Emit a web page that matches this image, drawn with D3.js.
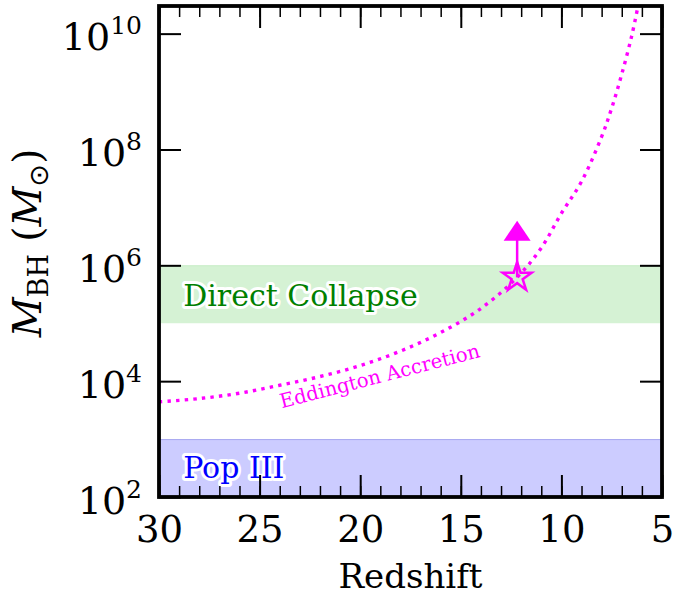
<!DOCTYPE html>
<html>
<head>
<meta charset="utf-8">
<script src="https://cdn.jsdelivr.net/npm/d3@7"></script>
<style>
  body { margin: 0; background: #fff; }
  text { font-family: "DejaVu Serif", serif; }
</style>
</head>
<body>
<script>
// Eddington accretion track (redshift, M_BH in solar masses)
var eddZ    = [30, 28, 26, 24, 22, 20, 18, 16, 14, 12.2, 11, 10, 9, 8, 7.5, 7, 6.5, 6.2];
var eddMass = [4.4e3, 5.0e3, 6.2e3, 8.5e3, 1.2e4, 1.86e4, 3.3e4, 6.9e4, 1.8e5, 6.2e5,
               2.0e6, 7.9e6, 2.8e7, 1.66e8, 5.2e8, 2.0e9, 9.3e9, 2.9e10];

// seed mass ranges
var bandNames = ["Direct Collapse", "Pop III"];
var bandLow   = [1e5, 1e2];
var bandHigh  = [1e6, 1e3];

// the object: lower limit at z ~ 12.2, arrow up to
var objZ = [12.2], objMass = [6.2e5], objLimitTo = [5.9e6];

var xTicks = [30, 25, 20, 15, 10, 5];
var yTicks = [1e2, 1e4, 1e6, 1e8, 1e10];
var yExp   = ["2", "4", "6", "8", "10"];

var W = 673, H = 597;
var plotL = 159, plotR = 662, plotT = 6, plotB = 497;

var svg = d3.select("body").append("svg")
    .attr("width", W).attr("height", H);

var x = d3.scaleLinear().domain([30, 5]).range([plotL, plotR]),
    y = d3.scaleLog().domain([1e2, 3e10]).range([plotB, plotT]);

svg.append("clipPath").attr("id", "plot")
  .append("rect")
    .attr("x", plotL).attr("y", plotT)
    .attr("width", plotR - plotL).attr("height", plotB - plotT);

var plot = svg.append("g").attr("clip-path", "url(#plot)");

// bands
var bandFill = ["#d5f2d4", "#ccccff"],
    bandEdge = ["#c9eec8", "#a9a9f0"],
    bandText = ["#008000", "#0000ff"];

bandNames.forEach(function(name, i) {
  plot.append("rect")
      .attr("x", x(30)).attr("width", x(5) - x(30))
      .attr("y", y(bandHigh[i]))
      .attr("height", y(bandLow[i]) - y(bandHigh[i]))
      .attr("fill", bandFill[i]);
  plot.append("line")
      .attr("x1", x(30)).attr("x2", x(5))
      .attr("y1", y(bandHigh[i]) + 0.5).attr("y2", y(bandHigh[i]) + 0.5)
      .attr("stroke", bandEdge[i]).attr("stroke-width", 1);
});

// Eddington track
var edd = eddZ.map(function(z, i) { return {z: z, m: eddMass[i]}; });
var line = d3.line()
    .curve(d3.curveCatmullRom)
    .x(function(d) { return x(d.z); })
    .y(function(d) { return y(d.m); });

plot.append("path")
    .datum(edd)
    .attr("d", line)
    .attr("fill", "none")
    .attr("stroke", "#ff00ff")
    .attr("stroke-width", 3.4)
    .attr("stroke-dasharray", "3.4,5.2");

// band labels with white halo
var labelZ = [28.8, 28.8], labelM = [2.0e5, 2.1e2];
bandNames.forEach(function(name, i) {
  svg.append("text")
      .attr("x", x(labelZ[i])).attr("y", y(labelM[i]))
      .attr("font-size", 30)
      .attr("fill", bandText[i])
      .attr("stroke", "#fff").attr("stroke-width", 6)
      .attr("stroke-linejoin", "round")
      .attr("paint-order", "stroke")
      .text(name);
});

svg.append("text")
    .attr("transform", "translate(" + x(23.9) + "," + y(3.4e3) + ") rotate(-14.5)")
    .attr("font-size", 19.7)
    .attr("fill", "#ff00ff")
    .text("Eddington Accretion");

// lower-limit marker
objZ.forEach(function(z, i) {
  var cx = x(z), cy = y(objMass[i]), ty = y(objLimitTo[i]);
  svg.append("line")
      .attr("x1", cx).attr("x2", cx)
      .attr("y1", cy).attr("y2", ty + 18)
      .attr("stroke", "#ff00ff").attr("stroke-width", 2.5);
  svg.append("path")
      .attr("d", "M" + cx + "," + ty + "L" + (cx + 13.5) + "," + (ty + 20) + "L" + (cx - 13.5) + "," + (ty + 20) + "Z")
      .attr("fill", "#ff00ff");
  svg.append("path")
      .attr("transform", "translate(" + cx + "," + cy + ")")
      .attr("d", d3.symbol(d3.symbolStar, 260)())
      .attr("fill", "none")
      .attr("stroke", "#ff00ff")
      .attr("stroke-width", 2.5)
      .attr("stroke-linejoin", "miter");
});

// axes, ticks pointing in
function styleTicks(g, w) {
  g.select(".domain").remove();
  g.selectAll(".tick line").attr("stroke", "#000").attr("stroke-width", w);
}

var minor = d3.range(5, 31);

svg.append("g").attr("transform", "translate(0," + plotB + ")")
    .call(d3.axisBottom(x).tickValues(minor).tickSize(-11).tickFormat(""))
    .call(styleTicks, 1.5);
svg.append("g").attr("transform", "translate(0," + plotT + ")")
    .call(d3.axisTop(x).tickValues(minor).tickSize(-11).tickFormat(""))
    .call(styleTicks, 1.5);

var xb = svg.append("g").attr("transform", "translate(0," + plotB + ")")
    .call(d3.axisBottom(x).tickValues(xTicks).tickSize(-22).tickPadding(19).tickFormat(d3.format("d")))
    .call(styleTicks, 2);
xb.selectAll(".tick text")
    .attr("font-family", "DejaVu Serif").attr("font-size", 37).attr("fill", "#000");

svg.append("g").attr("transform", "translate(0," + plotT + ")")
    .call(d3.axisTop(x).tickValues(xTicks).tickSize(-22).tickFormat(""))
    .call(styleTicks, 2);

var yl = svg.append("g").attr("transform", "translate(" + plotL + ",0)")
    .call(d3.axisLeft(y).tickValues(yTicks).tickSize(-22).tickPadding(17))
    .call(styleTicks, 2);
yl.selectAll(".tick text").each(function(d, i) {
  var t = d3.select(this).text(null)
      .attr("font-family", "DejaVu Serif").attr("fill", "#000")
      .attr("dy", null).attr("y", 16);
  t.append("tspan").attr("font-size", 38).text("10");
  t.append("tspan").attr("font-size", 25).attr("dy", -16).text(yExp[i]);
});

svg.append("g").attr("transform", "translate(" + plotR + ",0)")
    .call(d3.axisRight(y).tickValues(yTicks).tickSize(-22).tickFormat(""))
    .call(styleTicks, 2);

// frame
svg.append("rect")
    .attr("x", plotL).attr("y", plotT)
    .attr("width", plotR - plotL).attr("height", plotB - plotT)
    .attr("fill", "none").attr("stroke", "#000").attr("stroke-width", 3.8);

// axis titles
svg.append("text")
    .attr("x", (plotL + plotR) / 2).attr("y", 588)
    .attr("text-anchor", "middle")
    .attr("font-size", 34)
    .text("Redshift");

var yt = svg.append("text")
    .attr("transform", "translate(41,243) rotate(-90)")
    .attr("text-anchor", "middle")
    .attr("font-size", 39);
yt.append("tspan").attr("font-style", "italic").text("M");
yt.append("tspan").attr("font-size", 27).attr("dy", 7).text("BH");
yt.append("tspan").attr("dy", -7).text(" (");
yt.append("tspan").attr("font-style", "italic").text("M");
yt.append("tspan").attr("font-size", 27).attr("dy", 7).attr("font-family", "DejaVu Sans").text("⊙");
yt.append("tspan").attr("dy", -7).text(")");
</script>
</body>
</html>
